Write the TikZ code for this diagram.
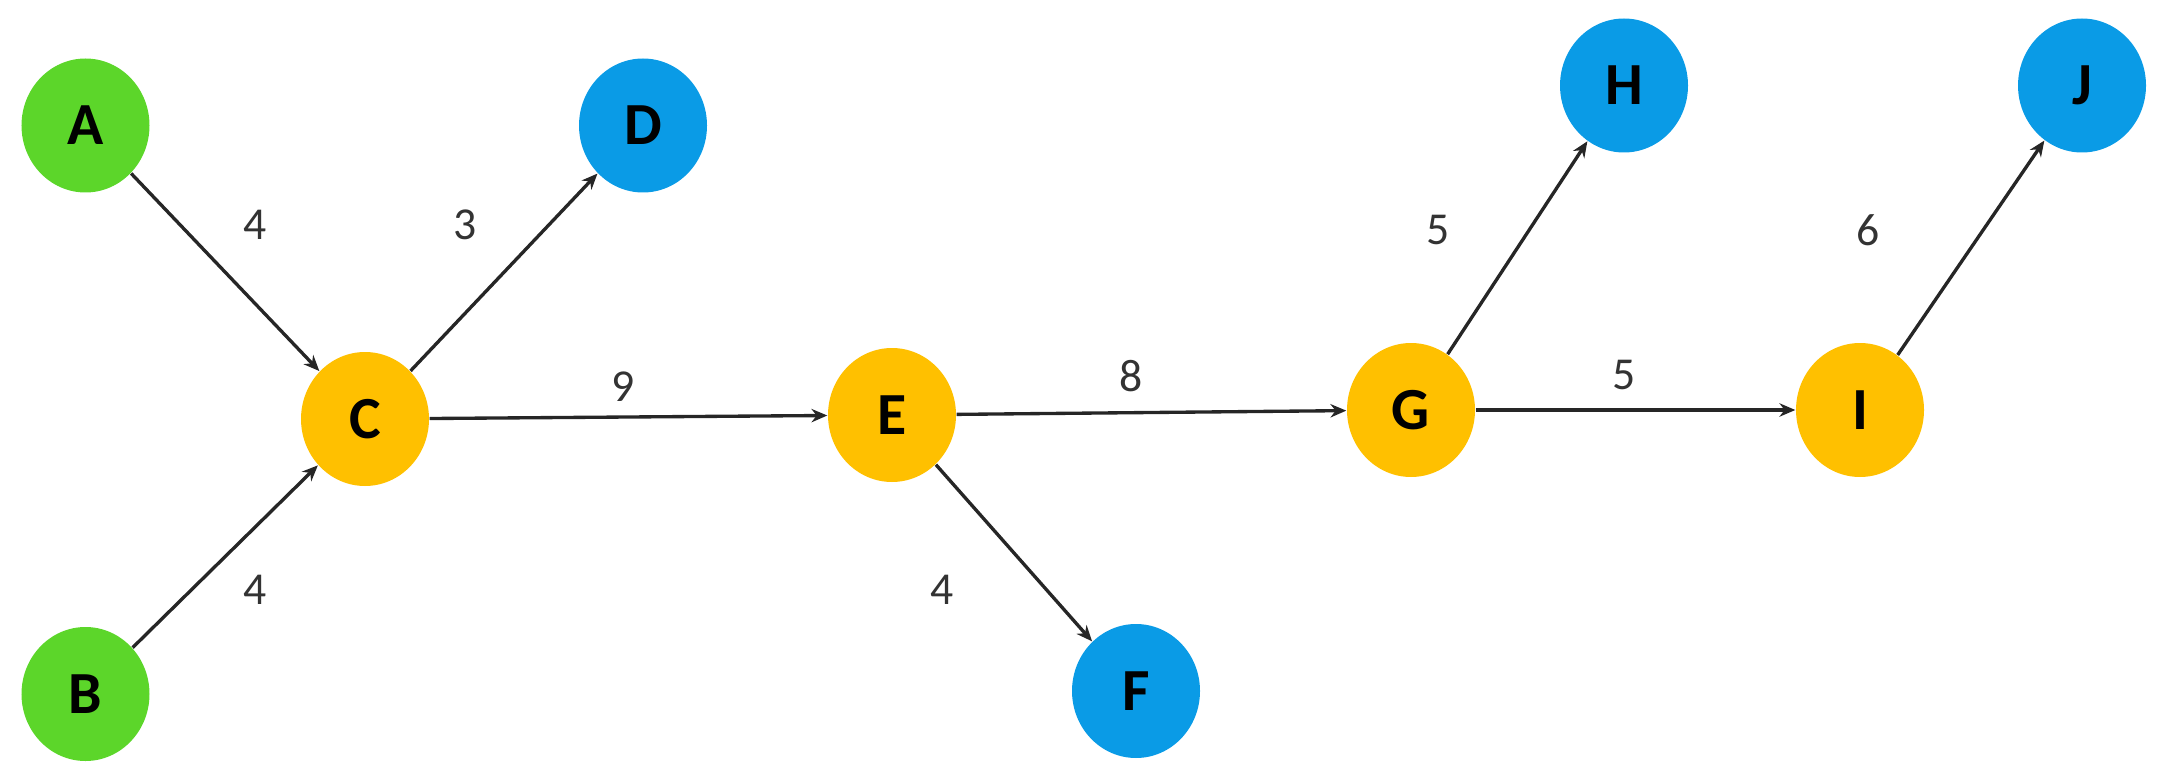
\documentclass[tikz,border=0pt]{standalone}
\usepackage{fontspec}
\setmainfont{Carlito}
\usepackage{xcolor}
\usetikzlibrary{positioning,arrows.meta,shapes.geometric}
\definecolor{LeafGreen}{HTML}{5CD62A}
\definecolor{SinkBlue}{HTML}{0A9BE6}
\definecolor{HubGold}{HTML}{FFC000}
\definecolor{EdgeDark}{HTML}{262626}
\definecolor{WeightGray}{HTML}{333333}

\begin{document}
\begin{tikzpicture}[
    vertex/.style={ellipse, minimum width=1.28cm, minimum height=1.34cm,
      inner sep=0pt, text=black, font=\fontsize{17}{17}\selectfont\bfseries},
    src/.style={vertex, fill=LeafGreen},
    hub/.style={vertex, fill=HubGold},
    sink/.style={vertex, fill=SinkBlue},
    flow/.style={draw=EdgeDark, line width=0.95pt,
      -{Stealth[length=4.5pt,width=3.8pt]}},
    weight/.style={inner sep=0pt, text=WeightGray,
      font=\fontsize{13}{13}\selectfont}]
  \useasboundingbox (0,0) rectangle (21.62,7.73);

  % vertices
  \node[src]  (A) at (0.855,6.475) {A};
  \node[src]  (B) at (0.855,0.79)  {B};
  \node[hub]  (C) at (3.65,3.54)   {C};
  \node[sink] (D) at (6.43,6.475)  {D};
  \node[hub]  (E) at (8.92,3.58)   {E};
  \node[sink] (F) at (11.36,0.82)  {F};
  \node[hub]  (G) at (14.11,3.63)  {G};
  \node[sink] (H) at (16.24,6.875) {H};
  \node[hub]  (I) at (18.60,3.63)  {I};
  \node[sink] (J) at (20.82,6.875) {J};

  % weighted arcs
  \foreach \s/\t/\w/\dx/\dy in {
      A/C/4/0.30/0.47,
      B/C/4/0.30/-0.33,
      C/D/3/-0.39/0.47,
      C/E/9/-0.05/0.30,
      E/G/8/-0.20/0.36,
      E/F/4/-0.72/-0.37,
      G/H/5/-0.79/0.18,
      G/I/5/-0.11/0.35,
      I/J/6/-1.03/0.18%
    }{
      \draw[flow] (\s) -- node[weight, shift={(\dx,\dy)}] {\w} (\t);
    }
\end{tikzpicture}
\end{document}
